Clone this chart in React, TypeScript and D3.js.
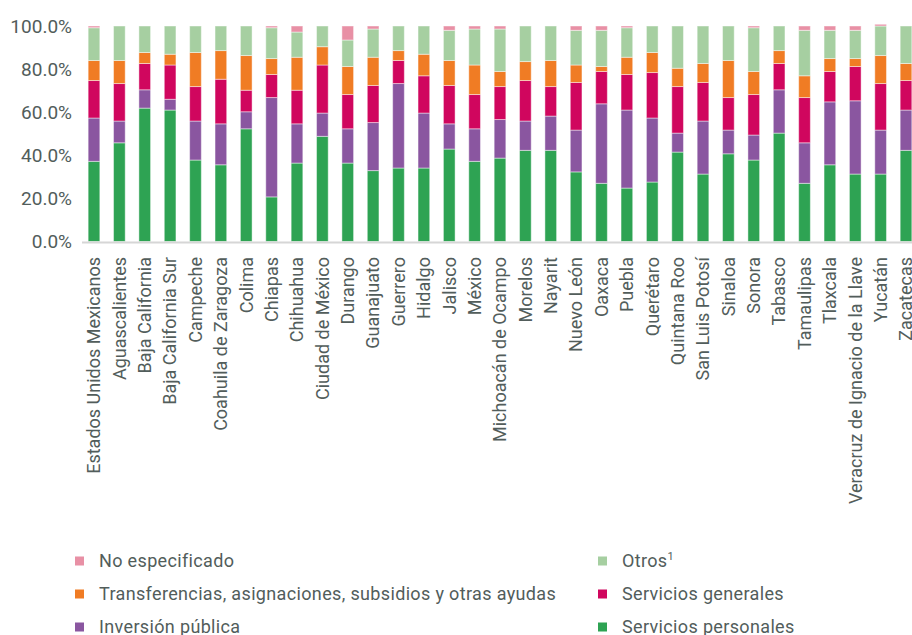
import React from "react";
import * as d3 from "d3";

const categories = [
  "Estados Unidos Mexicanos", "Aguascalientes", "Baja California", "Baja California Sur",
  "Campeche", "Coahuila de Zaragoza", "Colima", "Chiapas", "Chihuahua", "Ciudad de México",
  "Durango", "Guanajuato", "Guerrero", "Hidalgo", "Jalisco", "México", "Michoacán de Ocampo",
  "Morelos", "Nayarit", "Nuevo León", "Oaxaca", "Puebla", "Querétaro", "Quintana Roo",
  "San Luis Potosí", "Sinaloa", "Sonora", "Tabasco", "Tamaulipas", "Tlaxcala",
  "Veracruz de Ignacio de la Llave", "Yucatán", "Zacatecas",
];

const serviciosPersonales = [37.2, 45.8, 61.9, 61.0, 37.8, 35.6, 52.3, 20.7, 36.4, 48.8, 36.4, 32.9, 34.1, 34.1, 42.9, 37.2, 38.7, 42.3, 42.3, 32.3, 27.0, 24.8, 27.6, 41.5, 31.3, 40.7, 37.8, 50.3, 27.0, 35.6, 31.3, 31.3, 42.3];
const inversionPublica = [20.1, 10.1, 8.5, 5.0, 18.1, 19.0, 7.9, 46.1, 18.2, 10.8, 15.9, 22.3, 39.2, 25.5, 11.7, 15.1, 17.9, 13.6, 15.9, 19.4, 36.9, 36.2, 29.7, 8.8, 24.6, 11.0, 11.6, 20.1, 18.8, 29.2, 34.0, 20.4, 18.7];
const serviciosGenerales = [17.4, 17.4, 12.2, 15.9, 16.0, 20.7, 10.0, 10.7, 15.6, 22.3, 15.9, 17.2, 10.7, 17.3, 17.8, 15.9, 15.3, 18.8, 13.7, 22.1, 15.0, 16.5, 21.1, 21.6, 17.9, 15.1, 18.8, 12.2, 21.0, 14.1, 15.9, 21.6, 13.7];
const transferencias = [9.3, 10.7, 5.1, 5.0, 15.8, 13.3, 16.1, 7.4, 15.3, 8.5, 13.0, 13.1, 4.6, 10.0, 11.6, 13.7, 7.0, 8.8, 12.1, 8.1, 2.3, 8.0, 9.3, 8.5, 8.8, 17.2, 10.7, 6.0, 10.1, 6.0, 3.7, 13.0, 7.9];
const otros = [15.2, 16.0, 12.3, 13.1, 12.3, 11.4, 13.7, 14.3, 11.7, 9.6, 12.3, 13.1, 11.4, 13.1, 14.0, 16.7, 19.7, 16.5, 16.0, 16.1, 16.8, 13.7, 12.3, 19.6, 17.4, 16.0, 20.3, 11.4, 21.1, 13.1, 13.1, 13.7, 17.4];
const noEspecificado = [0.8, 0, 0, 0, 0, 0, 0, 0.8, 2.8, 0, 6.5, 1.4, 0, 0, 2.0, 1.4, 1.4, 0, 0, 2.0, 2.0, 0.8, 0, 0, 0, 0, 0.8, 0, 2.0, 2.0, 2.0, 0.8, 0];

const yTicks = [0, 20, 40, 60, 80, 100];

const seriesNames = [
  "Servicios personales", "Inversión pública", "Servicios generales",
  "Transferencias, asignaciones, subsidios y otras ayudas", "Otros", "No especificado",
];
const seriesColors = ["#2ea353", "#8a56a0", "#d0065e", "#f07c24", "#a6cfa1", "#e890a5"];
const seriesValues = [serviciosPersonales, inversionPublica, serviciosGenerales, transferencias, otros, noEspecificado];

// legend order (row-wise, two columns)
const legendOrder = [5, 4, 3, 2, 1, 0];

const FONT = "Roboto, 'Noto Sans', sans-serif";
const TEXT = "#525d5b";

export default function App() {
  const W = 912, H = 635;
  const x = d3.scaleBand<string>().domain(categories).range([81.3, 918.7]).paddingInner(0.54).paddingOuter(0.27);
  const y = d3.scaleLinear().domain([0, 100]).range([241.5, 26]);

  const rows = categories.map((c, i) => {
    const r: any = { cat: c };
    seriesNames.forEach((s, k) => (r[s] = seriesValues[k][i]));
    return r;
  });
  const stack = d3.stack<any>().keys(seriesNames)(rows);

  return (
    <svg width={W} height={H} style={{ position: "absolute", left: 0, top: 0, overflow: "hidden", background: "#fff" }} fontFamily={FONT}>
      {stack.map((layer, k) => (
        <g key={k} fill={seriesColors[k]}>
          {layer.map((d, i) => {
            const h = y(d[0]) - y(d[1]);
            if (h <= 0) return null;
            return (
              <rect key={i} x={x(categories[i])} y={y(d[1])} width={x.bandwidth()} height={h}
                stroke="rgba(255,255,255,0.45)" strokeWidth={1} />
            );
          })}
        </g>
      ))}
      <line x1={82} x2={912} y1={242.5} y2={242.5} stroke="#d6d6d6" strokeWidth={2} />
      {yTicks.map((t) => (
        <text key={t} x={72} y={y(t)} dy="0.35em" textAnchor="end" fontSize={19} fill={TEXT}>
          {t.toFixed(1) + "%"}
        </text>
      ))}
      {categories.map((c) => {
        const cx = (x(c) as number) + x.bandwidth() / 2;
        return (
          <text key={c} transform={`translate(${cx},257) rotate(-90)`} textAnchor="end" dy="0.35em" fontSize={18} fill={TEXT}>
            {c}
          </text>
        );
      })}
      {legendOrder.map((k, j) => {
        const col = j % 2, row = Math.floor(j / 2);
        const lx = col === 0 ? 75 : 598;
        const ly = 561 + row * 33;
        return (
          <g key={k}>
            <rect x={lx} y={ly - 4.5} width={9} height={9} fill={seriesColors[k]} />
            <text x={lx + 24} y={ly} dy="0.35em" fontSize={18} letterSpacing={0.35} fill={TEXT}>
              {seriesNames[k]}
              {k === 4 ? <tspan dy="-7" fontSize={11}>1</tspan> : null}
            </text>
          </g>
        );
      })}
    </svg>
  );
}
